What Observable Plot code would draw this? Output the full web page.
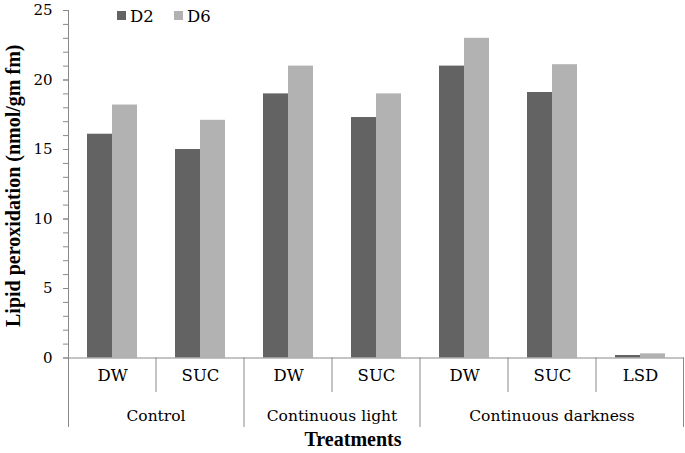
<!DOCTYPE html>
<html>
<head>
<meta charset="utf-8">
<script src="https://cdn.jsdelivr.net/npm/d3@7"></script>
<script src="https://cdn.jsdelivr.net/npm/@observablehq/plot@0.6"></script>
<style>
  html, body { margin: 0; padding: 0; background: #fff; }
  #chart { position: relative; width: 685px; height: 453px; }
</style>
</head>
<body>
<div id="chart"></div>
<script>
// ---- data ----
const groups = ["Control", "Control", "Continuous light", "Continuous light",
                "Continuous darkness", "Continuous darkness", "Continuous darkness"];
const subLabels = ["DW", "SUC", "DW", "SUC", "DW", "SUC", "LSD"];
const series = ["D2", "D6"];
const d2 = [16.1, 15.0, 19.0, 17.3, 21.0, 19.1, 0.18];
const d6 = [18.2, 17.1, 21.0, 19.0, 23.0, 21.1, 0.30];
const yTicks = [0, 5, 10, 15, 20, 25];
const yMinorTicks = d3.range(0, 26, 1);
const yTitle = "Lipid peroxidation (nmol/gm fm)";
const xTitle = "Treatments";
const colors = ["#636363", "#b2b2b2"];

// ---- tables built from the arrays ----
const cats = subLabels.map((s, i) => ({id: i + ":" + s, sub: s, group: groups[i]}));
const rows = cats.flatMap((c, i) => [
  {id: c.id, series: series[0], value: d2[i]},
  {id: c.id, series: series[1], value: d6[i]}
]);

const axisGray = "#898989";
const FONT = "'DejaVu Serif', serif";
const BOLD = "'Liberation Serif', 'Times New Roman', serif";

const chart = Plot.plot({
  width: 685,
  height: 453,
  marginLeft: 67,
  marginRight: 1,
  marginTop: 10,
  marginBottom: 95.5,
  style: {fontFamily: FONT, fontSize: "16px", color: "#000", background: "#fff", overflow: "visible"},
  fx: {domain: cats.map(d => d.id), padding: 0, axis: null, label: null},
  x: {domain: series, paddingInner: 0, paddingOuter: 0.76, axis: null},
  y: {domain: [0, 25], axis: null},
  color: {domain: series, range: colors},
  marks: [
    Plot.barY(rows, {fx: "id", x: "series", y: "value", fill: "series"}),
    Plot.ruleY([0], {stroke: axisGray}),
    Plot.axisY(yMinorTicks, {tickSize: 5, tickFormat: () => "", label: null, stroke: axisGray}),
    Plot.axisY(yTicks, {tickSize: 5, tickPadding: 11, label: null, stroke: axisGray, fill: "#000", fontSize: 15, fontFamily: FONT}),
    Plot.text(cats, {fx: "id", text: "sub", frameAnchor: "bottom", dy: 23, fontSize: 16.5, fontFamily: FONT, fill: "#000"})
  ]
});

document.getElementById("chart").appendChild(chart);

// ---- hierarchical category axis lines, titles and legend, placed with Plot's scales ----
const svg = d3.select(chart.tagName.toLowerCase() === "svg" ? chart : chart.querySelector("svg"));
const fxS = chart.scale("fx");
const yS = chart.scale("y");
const n = cats.length;
const bw = fxS.bandwidth ?? (fxS.range[1] - fxS.range[0]) / n;
const start = i => fxS.apply(cats[i].id);
const y0 = yS.apply(0);
const yTop = yS.apply(25);
const shortLen = 34.5, longLen = 69.5;

const g = svg.append("g").attr("stroke", axisGray).attr("stroke-width", 1);
// y axis line, extending down as the outer category border
g.append("line").attr("x1", start(0) + 0.5).attr("x2", start(0) + 0.5)
  .attr("y1", yTop).attr("y2", y0 + longLen);
// separators between categories
for (let i = 1; i <= n; i++) {
  const x = i < n ? start(i) : start(n - 1) + bw - 0.5;
  const isGroupEdge = i === n || groups[i] !== groups[i - 1];
  g.append("line").attr("x1", x).attr("x2", x)
    .attr("y1", y0).attr("y2", y0 + (isGroupEdge ? longLen : shortLen));
}
// group labels
const groupNames = Array.from(new Set(groups));
for (const name of groupNames) {
  const idx = d3.range(n).filter(i => groups[i] === name);
  const cx = (start(idx[0]) + start(idx[idx.length - 1]) + bw) / 2;
  const label = name === "Continuous darkness" ? start(idx[1]) + bw / 2 : cx;
  svg.append("text").attr("x", label).attr("y", y0 + 63.5)
    .attr("text-anchor", "middle").style("font-family", FONT).attr("font-size", 15.5)
    .attr("fill", "#000").text(name);
}
// x title
svg.append("text").attr("x", 353).attr("y", y0 + 88)
  .attr("text-anchor", "middle").style("font-family", BOLD).attr("font-size", 20)
  .attr("font-weight", "bold").attr("fill", "#000").text(xTitle);
// y title
svg.append("text").attr("transform", `translate(20,${(yTop + y0) / 2 + 2}) rotate(-90)`)
  .attr("text-anchor", "middle").style("font-family", BOLD).attr("font-size", 20)
  .attr("font-weight", "bold").attr("fill", "#000").text(yTitle);
// legend
const lg = svg.append("g").style("font-family", FONT).attr("font-size", 16.5).attr("text-anchor", "start");
series.forEach((s, i) => {
  const lx = 117 + i * 57;
  lg.append("rect").attr("x", lx).attr("y", 11).attr("width", 9).attr("height", 9).attr("fill", colors[i]);
  lg.append("text").attr("x", lx + 13).attr("y", 22).attr("text-anchor", "start").attr("fill", "#000").text(s);
});
</script>
</body>
</html>
